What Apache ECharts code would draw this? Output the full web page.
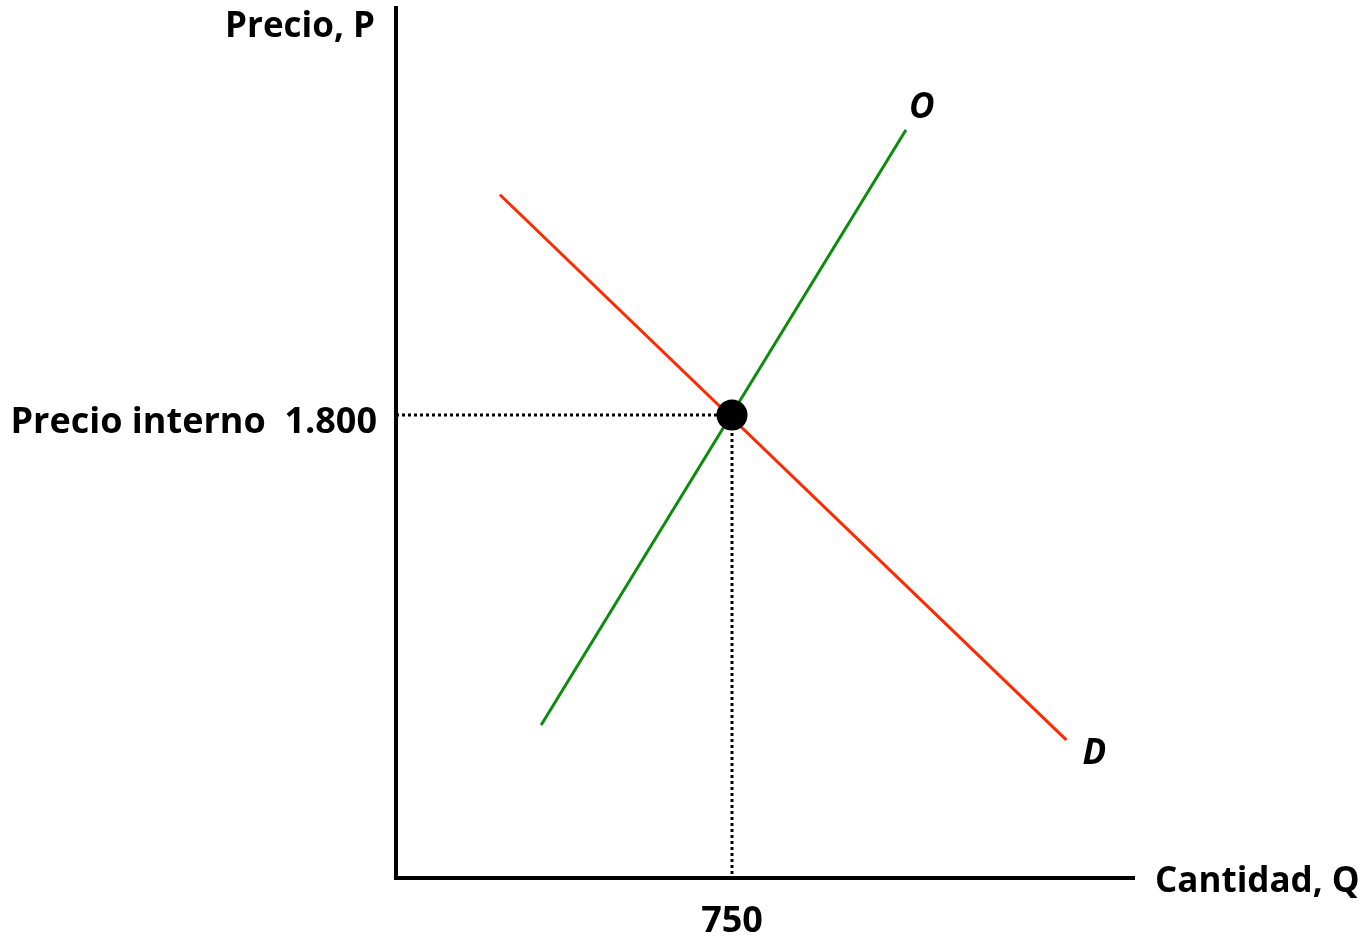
<!DOCTYPE html>
<html>
<head>
<meta charset="utf-8">
<title>Precio interno</title>
<script src="https://cdn.jsdelivr.net/npm/echarts@6/dist/echarts.min.js"></script>
<style>
  html, body { margin: 0; padding: 0; background: #fff; }
  #chart { width: 1368px; height: 936px; }
</style>
</head>
<body>
<div id="chart"></div>
<script>
/* Axis extents (data units) */
let X_MAX = 1645;
let Y_MAX = 3382;

/* Equilibrium */
let EQ_Q = 750;
let EQ_P = 1800;

/* Supply (O) and demand (D) end points: [Q, P] */
let supplyPoints = [[324, 595], [1138, 2908]];
let demandPoints = [[232, 2656], [1496, 537]];

/* Dotted guide from the price axis to the point, then down to the quantity axis */
let guidePoints = [[0, EQ_P], [EQ_Q, EQ_P], [EQ_Q, 0]];

let FONT = "'Open Sans', Lato, sans-serif";

/* rich style that nudges a label down a few pixels */
function lowered(size, dy) {
  return { fontFamily: FONT, fontWeight: "bold", fontSize: size, color: "#000", padding: [dy * 2, 0, 0, 0] };
}

let chart = echarts.init(document.getElementById("chart"), null, { renderer: "canvas" });

chart.setOption({
  animation: false,
  backgroundColor: "#fff",
  textStyle: { fontFamily: FONT },
  grid: { left: 396, right: 235, top: 8, bottom: 58, containLabel: false, outerBoundsMode: "none" },
  xAxis: {
    type: "value",
    min: 0,
    max: X_MAX,
    name: "{a|Cantidad, Q}",
    nameLocation: "end",
    nameGap: 22,
    nameTextStyle: {
      fontFamily: FONT, fontWeight: "bold", fontSize: 35, color: "#000",
      verticalAlign: "middle",
      rich: { a: lowered(35, 4) },
    },
    axisLine: { show: true, lineStyle: { color: "#000", width: 4, cap: "square" } },
    axisTick: { show: false },
    splitLine: { show: false },
    axisLabel: {
      customValues: [EQ_Q],
      formatter: "{value}",
      margin: 26,
      fontFamily: FONT,
      fontWeight: "bold",
      fontSize: 36,
      color: "#000",
    },
  },
  yAxis: {
    type: "value",
    min: 0,
    max: Y_MAX,
    name: "Precio, P",
    nameLocation: "end",
    nameGap: -19,
    nameTextStyle: {
      fontFamily: FONT, fontWeight: "bold", fontSize: 35, color: "#000",
      align: "right", verticalAlign: "middle", padding: [0, 21, 0, 0],
    },
    axisLine: { show: true, lineStyle: { color: "#000", width: 4, cap: "square" } },
    axisTick: { show: false },
    splitLine: { show: false },
    axisLabel: {
      customValues: [EQ_P],
      formatter: function () { return "{a|Precio interno  1.800}"; },
      margin: 19,
      fontFamily: FONT,
      fontWeight: "bold",
      fontSize: 36,
      color: "#000",
      rich: { a: lowered(36, 8) },
    },
  },
  series: [
    {
      name: "guide",
      type: "line",
      data: guidePoints,
      showSymbol: false,
      lineStyle: { color: "#000", width: 3, type: [3, 3] },
      z: 1,
    },
    {
      name: "D",
      type: "line",
      data: [
        demandPoints[0],
        {
          value: demandPoints[1],
          label: {
            show: true, formatter: "D", position: "inside", offset: [28, 14],
            fontFamily: FONT, fontWeight: "bold", fontStyle: "italic", fontSize: 35, color: "#000",
          },
        },
      ],
      symbol: "circle",
      symbolSize: 1,
      showSymbol: true,
      itemStyle: { color: "#ff2a00" },
      lineStyle: { color: "#ff2a00", width: 3 },
      z: 2,
    },
    {
      name: "O",
      type: "line",
      data: [
        supplyPoints[0],
        {
          value: supplyPoints[1],
          label: {
            show: true, formatter: "O", position: "inside", offset: [16, -22],
            fontFamily: FONT, fontWeight: "bold", fontStyle: "italic", fontSize: 35, color: "#000",
          },
        },
      ],
      symbol: "circle",
      symbolSize: 1,
      showSymbol: true,
      itemStyle: { color: "#0c8c0c" },
      lineStyle: { color: "#0c8c0c", width: 3 },
      z: 2,
    },
    {
      name: "equilibrio",
      type: "scatter",
      data: [[EQ_Q, EQ_P]],
      symbol: "circle",
      symbolSize: 31,
      itemStyle: { color: "#000", opacity: 1 },
      z: 5,
    },
  ],
});
</script>
</body>
</html>
